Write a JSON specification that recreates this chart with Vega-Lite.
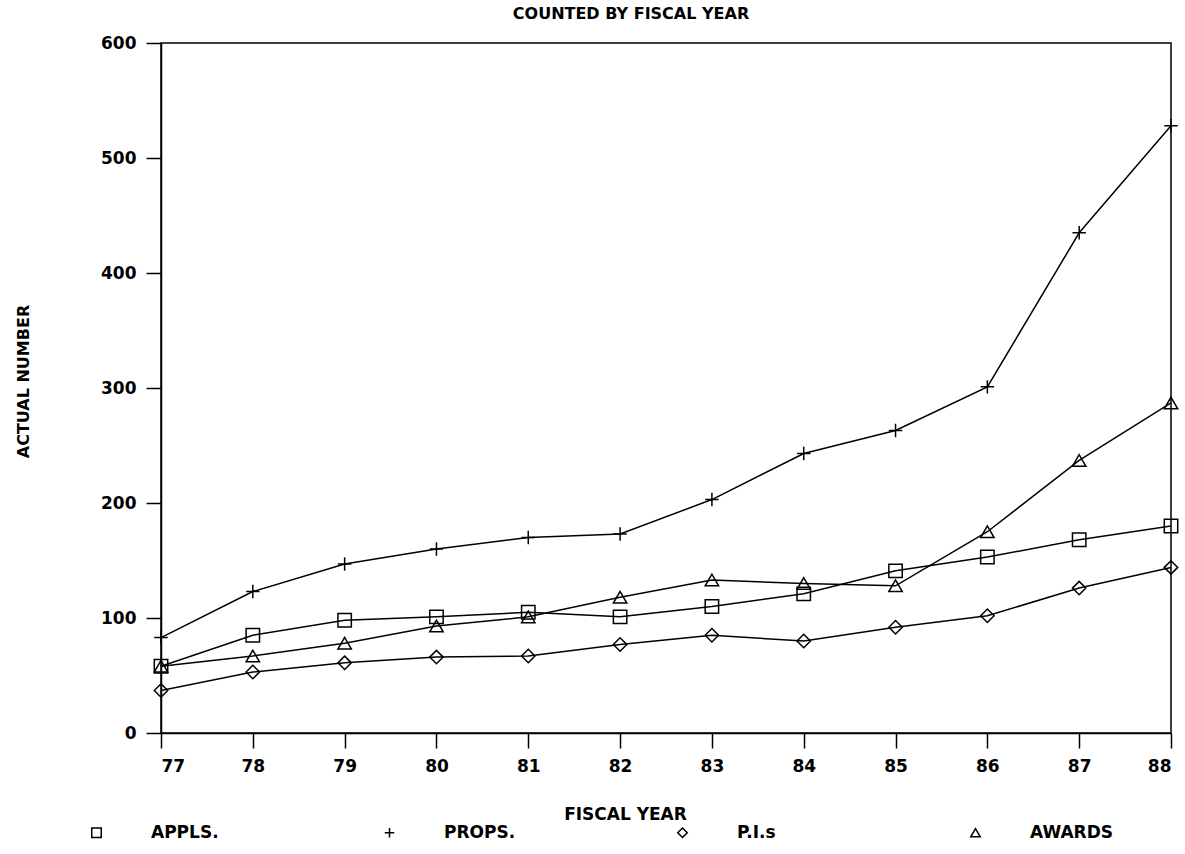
{
  "$schema": "https://vega.github.io/schema/vega-lite/v6.json",
  "autosize": {"type": "none"},
  "padding": {"left": 161, "top": 43, "right": 14, "bottom": 121},
  "width": 1010,
  "height": 690,
  "background": "white",
  "title": {"text": "COUNTED BY FISCAL YEAR", "fontSize": 16, "fontWeight": "bold", "font": "DejaVu Sans", "color": "black", "anchor": "middle", "dx": -35, "offset": 12},
  "config": {
    "view": {"stroke": "black", "strokeWidth": 1.5},
    "font": "DejaVu Sans"
  },
  "data": {"values": [
    {"year": 77, "series": "APPLS.", "value": 58},
    {"year": 78, "series": "APPLS.", "value": 85},
    {"year": 79, "series": "APPLS.", "value": 98},
    {"year": 80, "series": "APPLS.", "value": 101},
    {"year": 81, "series": "APPLS.", "value": 105},
    {"year": 82, "series": "APPLS.", "value": 101},
    {"year": 83, "series": "APPLS.", "value": 110},
    {"year": 84, "series": "APPLS.", "value": 121},
    {"year": 85, "series": "APPLS.", "value": 141},
    {"year": 86, "series": "APPLS.", "value": 153},
    {"year": 87, "series": "APPLS.", "value": 168},
    {"year": 88, "series": "APPLS.", "value": 180},
    {"year": 77, "series": "PROPS.", "value": 83},
    {"year": 78, "series": "PROPS.", "value": 123},
    {"year": 79, "series": "PROPS.", "value": 147},
    {"year": 80, "series": "PROPS.", "value": 160},
    {"year": 81, "series": "PROPS.", "value": 170},
    {"year": 82, "series": "PROPS.", "value": 173},
    {"year": 83, "series": "PROPS.", "value": 203},
    {"year": 84, "series": "PROPS.", "value": 243},
    {"year": 85, "series": "PROPS.", "value": 263},
    {"year": 86, "series": "PROPS.", "value": 301},
    {"year": 87, "series": "PROPS.", "value": 435},
    {"year": 88, "series": "PROPS.", "value": 528},
    {"year": 77, "series": "P.I.s", "value": 37},
    {"year": 78, "series": "P.I.s", "value": 53},
    {"year": 79, "series": "P.I.s", "value": 61},
    {"year": 80, "series": "P.I.s", "value": 66},
    {"year": 81, "series": "P.I.s", "value": 67},
    {"year": 82, "series": "P.I.s", "value": 77},
    {"year": 83, "series": "P.I.s", "value": 85},
    {"year": 84, "series": "P.I.s", "value": 80},
    {"year": 85, "series": "P.I.s", "value": 92},
    {"year": 86, "series": "P.I.s", "value": 102},
    {"year": 87, "series": "P.I.s", "value": 126},
    {"year": 88, "series": "P.I.s", "value": 144},
    {"year": 77, "series": "AWARDS", "value": 58},
    {"year": 78, "series": "AWARDS", "value": 67},
    {"year": 79, "series": "AWARDS", "value": 78},
    {"year": 80, "series": "AWARDS", "value": 93},
    {"year": 81, "series": "AWARDS", "value": 101},
    {"year": 82, "series": "AWARDS", "value": 118},
    {"year": 83, "series": "AWARDS", "value": 133},
    {"year": 84, "series": "AWARDS", "value": 130},
    {"year": 85, "series": "AWARDS", "value": 128},
    {"year": 86, "series": "AWARDS", "value": 175},
    {"year": 87, "series": "AWARDS", "value": 237},
    {"year": 88, "series": "AWARDS", "value": 287}
  ]},
  "encoding": {
    "x": {
      "field": "year", "type": "quantitative",
      "scale": {"domain": [77, 88], "nice": false, "zero": false},
      "axis": {
        "values": [77, 78, 79, 80, 81, 82, 83, 84, 85, 86, 87, 88],
        "grid": false, "tickSize": 15, "tickWidth": 1.5, "tickColor": "black",
        "domainColor": "black", "domainWidth": 1.5,
        "labelFontSize": 17, "labelFontWeight": "bold", "labelColor": "black", "labelPadding": 10,
        "title": "FISCAL YEAR", "titleFontSize": 17, "titleFontWeight": "bold", "titleColor": "black",
        "titleX": 464, "titleY": 86, "titleAlign": "center", "titleBaseline": "alphabetic"
      }
    },
    "y": {
      "field": "value", "type": "quantitative",
      "scale": {"domain": [0, 600], "nice": false},
      "axis": {
        "values": [0, 100, 200, 300, 400, 500, 600],
        "grid": false, "tickSize": 15, "tickWidth": 1.5, "tickColor": "black",
        "domainColor": "black", "domainWidth": 1.5,
        "labelFontSize": 17, "labelFontWeight": "bold", "labelColor": "black", "labelPadding": 10,
        "title": "ACTUAL NUMBER", "titleFontSize": 16, "titleFontWeight": "bold", "titleColor": "black",
        "titleX": -138, "titleY": 338, "titleAngle": 270, "titleAlign": "center", "titleBaseline": "middle"
      }
    }
  },
  "layer": [
    {
      "mark": {"type": "line", "color": "black", "strokeWidth": 1.5},
      "encoding": {"detail": {"field": "series"}}
    },
    {
      "mark": {"type": "point", "filled": false, "color": "black", "strokeWidth": 1.5, "size": 180, "opacity": 1},
      "encoding": {
        "shape": {
          "field": "series", "type": "nominal",
          "scale": {"domain": ["APPLS.", "PROPS.", "P.I.s", "AWARDS"], "range": ["square", "M-1,0L1,0M0,-1L0,1", "diamond", "triangle-up"]},
          "legend": {
            "title": null, "orient": "none", "legendX": -73, "legendY": 781,
            "direction": "horizontal", "columns": 4, "gridAlign": "all", "columnPadding": 147,
            "padding": 0, "labelOffset": 46, "labelFontSize": 17, "labelFontWeight": "bold", "labelColor": "black",
            "symbolSize": 90, "symbolStrokeWidth": 1.5, "symbolStrokeColor": "black", "symbolFillColor": "transparent",
            "labelLimit": 0
          }
        }
      }
    }
  ]
}
